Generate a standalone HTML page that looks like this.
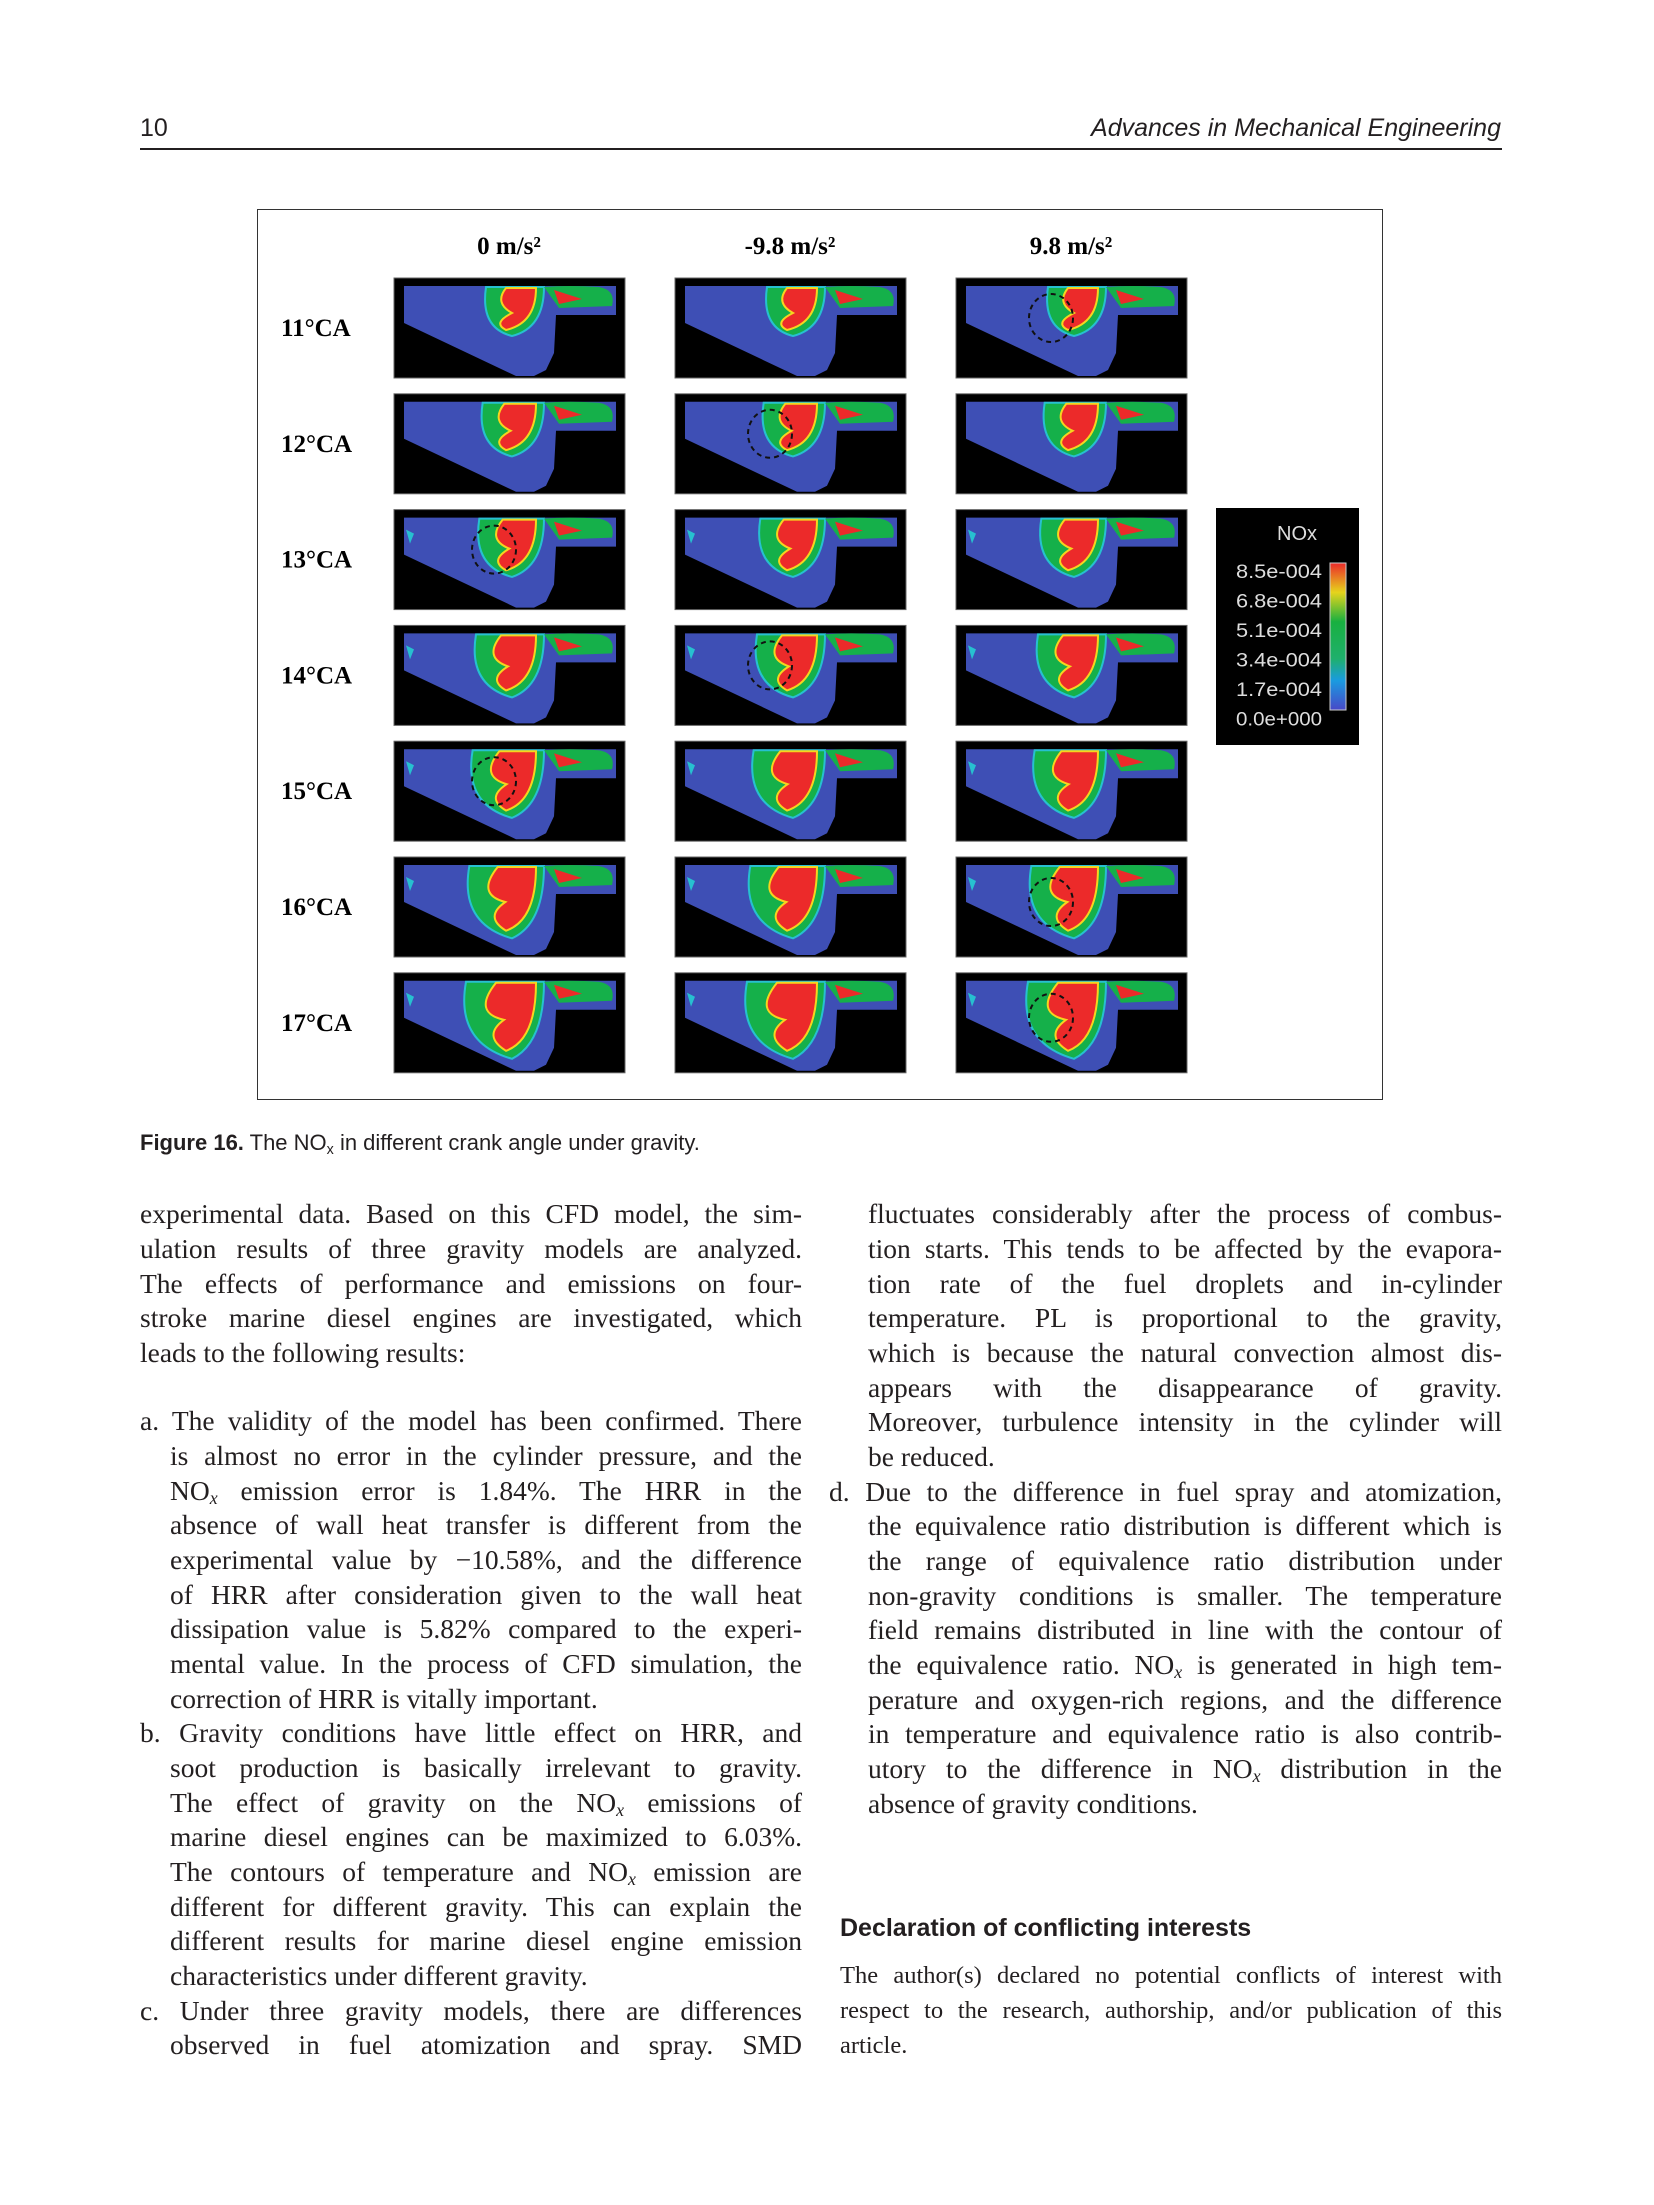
<!DOCTYPE html>
<html><head><meta charset="utf-8">
<style>
body{margin:0;background:#fff;width:1654px;height:2205px;position:relative;overflow:hidden;color:#231f20}
.a{position:absolute;white-space:nowrap}
.s{font-family:"Liberation Serif",serif;font-size:27.5px;line-height:35px}
.j{text-align:justify;text-align-last:justify;white-space:normal}
.sans{font-family:"Liberation Sans",sans-serif}
sub{font-size:65%;vertical-align:-4px;line-height:0}
</style></head><body>
<div class="a sans" style="left:140px;top:114px;font-size:25px">10</div>
<div class="a sans" style="right:153px;top:114px;font-size:25px;font-style:italic">Advances in Mechanical Engineering</div>
<div class="a" style="left:140px;top:148px;width:1362px;height:2px;background:#231f20"></div>

<div class="a" style="left:257px;top:209px;width:1126px;height:891px;border:1.5px solid #333;box-sizing:border-box"></div>
<svg class="a" id="fig" style="left:0;top:0" width="1654" height="1110"></svg>

<div class="a sans" style="left:140px;top:1130px;font-size:22px"><b>Figure 16.</b> The NO<sub>x</sub> in different crank angle under gravity.</div>

<div id="body"></div>

<div class="a sans" style="left:840px;top:1914px;font-size:25px;font-weight:bold">Declaration of conflicting interests</div>
<div class="a" style="left:840px;top:1958px;width:662px;font-family:'Liberation Serif',serif;font-size:24.5px;line-height:35px">
<div class="j">The author(s) declared no potential conflicts of interest with</div>
<div class="j">respect to the research, authorship, and/or publication of this</div>
<div>article.</div></div>

<script>
const colTitles=["0 m/s²","-9.8 m/s²","9.8 m/s²"];
const rowLabels=["11°CA","12°CA","13°CA","14°CA","15°CA","16°CA","17°CA"];
const cbTicks=["8.5e-004","6.8e-004","5.1e-004","3.4e-004","1.7e-004","0.0e+000"];
const circles=[[0,2],[1,1],[2,0],[3,1],[4,0],[5,2],[6,2]]; // [row,col] highlighted regions
const NS="http://www.w3.org/2000/svg";
const svg=document.getElementById('fig');
function mk(t,a,p){const e=document.createElementNS(NS,t);for(const k in a)e.setAttribute(k,a[k]);(p||svg).appendChild(e);return e;}
const colX=c=>394+c*281, rowY=r=>278+r*115.8;
colTitles.forEach((t,c)=>{const e=mk('text',{x:colX(c)+115,y:254,'text-anchor':'middle','font-family':'Liberation Serif','font-weight':'bold','font-size':25});e.textContent=t;
});
rowLabels.forEach((t,r)=>{const e=mk('text',{x:281,y:rowY(r)+58,'font-family':'Liberation Serif','font-weight':'bold','font-size':25});e.textContent=t;
});
rowLabels.forEach((t,r)=>colTitles.forEach((ct,c)=>{
 const g=mk('g',{transform:`translate(${colX(c)},${rowY(r)})`});
 
 mk('rect',{x:0,y:0,width:231,height:100,fill:'#000'},g);
 mk('polygon',{points:'10,8 222,8 222,37 162,37 160,75 152,92 140,98 122,98 10,45',fill:'#3e4fb5'},g);
 const k=r/6;
 mk('path',{d:`M${92-20*k} 9 Q${86-25*k} ${50+20*k} ${118} ${58+28*k} Q${150} ${50+20*k} ${150} 9 Z`,fill:'#15b04a',stroke:'#27c0d0','stroke-width':2},g);
 mk('path',{d:`M${112-10*k} 10 Q${100-22*k} ${25+15*k} ${118-8*k} ${35+12*k} Q${98-10*k} ${45+18*k} ${112} ${52+26*k} Q${142} ${45+22*k} ${142} 10 Z`,fill:'#ec2a2a',stroke:'#f6d51e','stroke-width':2},g);
 mk('path',{d:'M150 9 Q175 7 205 9 Q222 12 218 28 L165 30 Z',fill:'#15b04a'},g);
 mk('path',{d:'M160 12 L188 21 L165 26 Z',fill:'#ec2a2a'},g);
 if(r>=2){mk('path',{d:'M12 20 l8 4 l-4 10 z',fill:'#27c0d0'},g);}
 mk('rect',{x:0,y:0,width:231,height:100,fill:'none',stroke:'#666','stroke-width':1},g);
}));
circles.forEach(([r,c])=>{const e=mk('ellipse',{cx:colX(c)+(c==0?100:95),cy:rowY(r)+(r>4?45:40),rx:22,ry:24,fill:'none',stroke:'#111','stroke-width':2,'stroke-dasharray':'5 4'});
});
const cb=mk('g',{});
mk('rect',{x:1216,y:508,width:143,height:237,fill:'#000'},cb);
const lg=mk('linearGradient',{id:'cg',x1:0,y1:1,x2:0,y2:0},mk('defs',{},cb));
[['0','#4848c8'],['0.2','#1a9be0'],['0.35','#1fb06c'],['0.6','#18b040'],['0.8','#e6d41c'],['1','#ec2a2a']].forEach(([o,cl])=>mk('stop',{offset:o,'stop-color':cl},lg));
mk('rect',{x:1330,y:563,width:16,height:147,fill:'url(#cg)',stroke:'#ccc','stroke-width':1},cb);
const nt=mk('text',{x:1297,y:540,'text-anchor':'middle',fill:'#ddd','font-family':'Liberation Sans','font-size':20},cb);nt.textContent='NOx';
cbTicks.forEach((t,i)=>{const e=mk('text',{x:1322,y:578+i*29.5,'text-anchor':'end',fill:'#ddd','font-family':'Liberation Sans','font-size':19,textLength:86,lengthAdjust:'spacingAndGlyphs'},cb);e.textContent=t;});

const L=[
[140,1214,662,"experimental data. Based on this CFD model, the sim-",1],
[140,1249,662,"ulation results of three gravity models are analyzed.",1],
[140,1284,662,"The effects of performance and emissions on four-",1],
[140,1318,662,"stroke marine diesel engines are investigated, which",1],
[140,1353,662,"leads to the following results:",0],
[140,1421,662,"a. The validity of the model has been confirmed. There",1],
[170,1456,632,"is almost no error in the cylinder pressure, and the",1],
[170,1491,632,"NO<sub><i>x</i></sub> emission error is 1.84%. The HRR in the",1],
[170,1525,632,"absence of wall heat transfer is different from the",1],
[170,1560,632,"experimental value by &minus;10.58%, and the difference",1],
[170,1595,632,"of HRR after consideration given to the wall heat",1],
[170,1629,632,"dissipation value is 5.82% compared to the experi-",1],
[170,1664,632,"mental value. In the process of CFD simulation, the",1],
[170,1699,632,"correction of HRR is vitally important.",0],
[140,1733,662,"b. Gravity conditions have little effect on HRR, and",1],
[170,1768,632,"soot production is basically irrelevant to gravity.",1],
[170,1803,632,"The effect of gravity on the NO<sub><i>x</i></sub> emissions of",1],
[170,1837,632,"marine diesel engines can be maximized to 6.03%.",1],
[170,1872,632,"The contours of temperature and NO<sub><i>x</i></sub> emission are",1],
[170,1907,632,"different for different gravity. This can explain the",1],
[170,1941,632,"different results for marine diesel engine emission",1],
[170,1976,632,"characteristics under different gravity.",0],
[140,2011,662,"c. Under three gravity models, there are differences",1],
[170,2045,632,"observed in fuel atomization and spray. SMD",1],
[868,1214,634,"fluctuates considerably after the process of combus-",1],
[868,1249,634,"tion starts. This tends to be affected by the evapora-",1],
[868,1284,634,"tion rate of the fuel droplets and in-cylinder",1],
[868,1318,634,"temperature. PL is proportional to the gravity,",1],
[868,1353,634,"which is because the natural convection almost dis-",1],
[868,1388,634,"appears with the disappearance of gravity.",1],
[868,1422,634,"Moreover, turbulence intensity in the cylinder will",1],
[868,1457,634,"be reduced.",0],
[829,1492,673,"d. Due to the difference in fuel spray and atomization,",1],
[868,1526,634,"the equivalence ratio distribution is different which is",1],
[868,1561,634,"the range of equivalence ratio distribution under",1],
[868,1596,634,"non-gravity conditions is smaller. The temperature",1],
[868,1630,634,"field remains distributed in line with the contour of",1],
[868,1665,634,"the equivalence ratio. NO<sub><i>x</i></sub> is generated in high tem-",1],
[868,1700,634,"perature and oxygen-rich regions, and the difference",1],
[868,1734,634,"in temperature and equivalence ratio is also contrib-",1],
[868,1769,634,"utory to the difference in NO<sub><i>x</i></sub> distribution in the",1],
[868,1804,634,"absence of gravity conditions.",0]];
const body=document.getElementById('body');
L.forEach(([x,y,w,t,j])=>{const d=document.createElement('div');
d.className='a s'+(j?' j':'');d.style.left=x+'px';d.style.top=(y-18)+'px';d.style.width=w+'px';d.innerHTML=t;


body.appendChild(d);});
</script>
</body></html>
